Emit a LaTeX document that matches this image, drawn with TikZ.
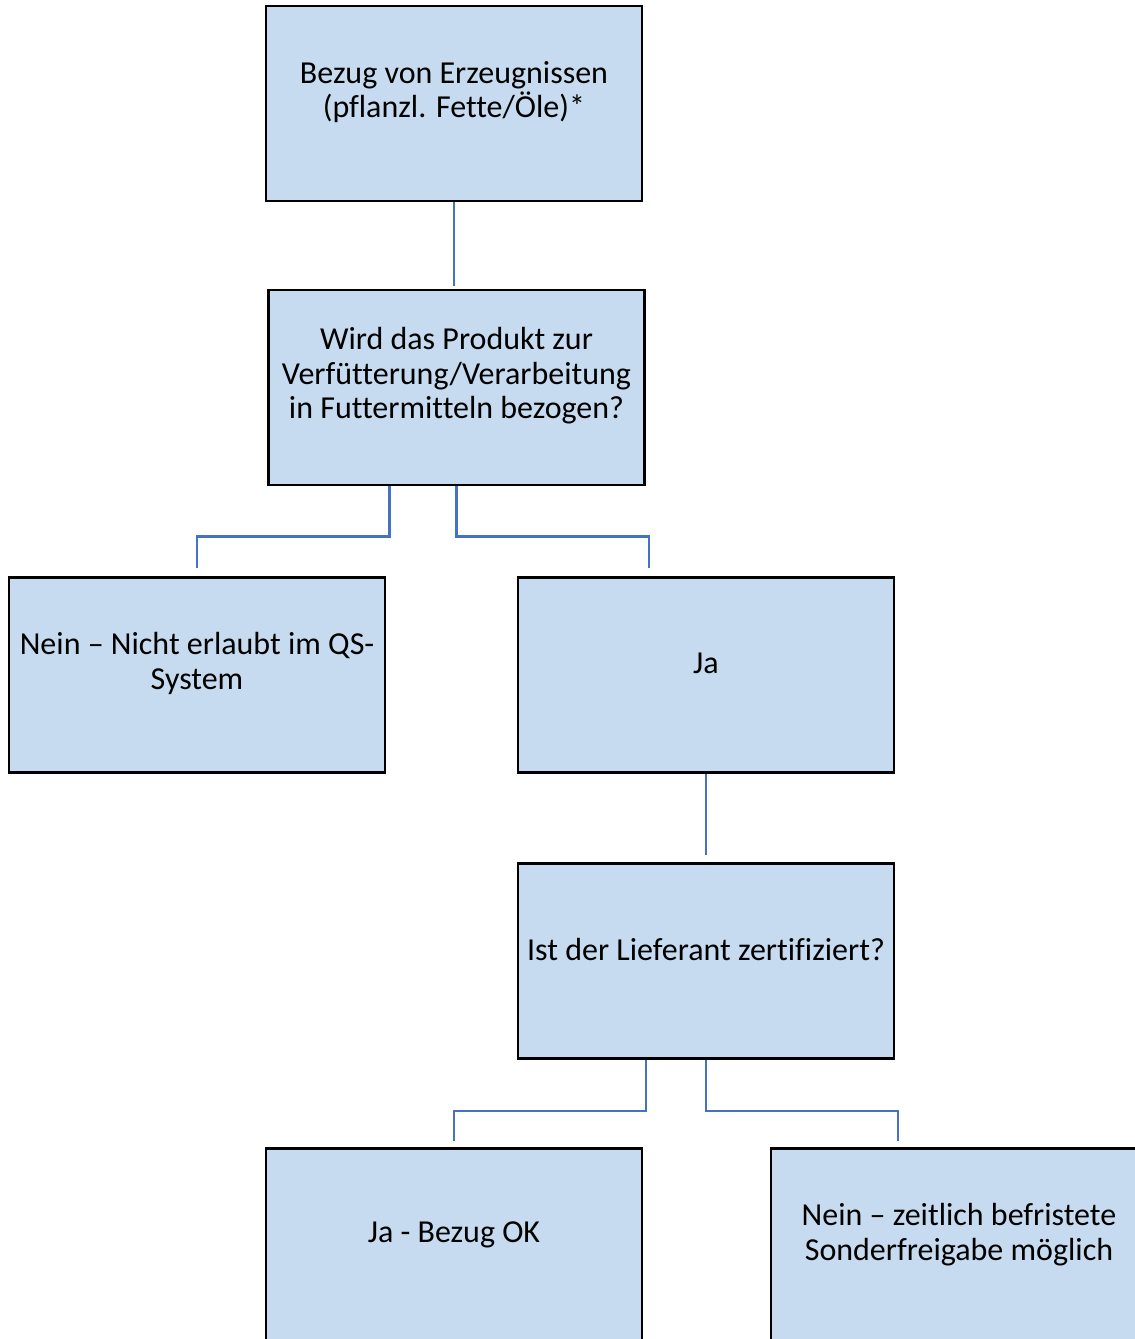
\documentclass[tikz,border=0pt]{standalone}
\usepackage{fontspec}
\setmainfont{Carlito}[Ligatures=CommonOff]
\usepackage{tikz}
\usetikzlibrary{positioning}
\usepackage{xcolor}
\definecolor{boxfill}{RGB}{198,219,239}
\definecolor{linkblue}{RGB}{68,114,196}

\begin{document}
\begin{tikzpicture}[
    x=0.5pt, y=-0.5pt,
    box/.style={draw, line width=1.4pt, fill=boxfill, minimum width=188pt, minimum height=97.5pt, inner sep=0pt},
    txt/.style={align=center, yshift=5.8pt, font=\fontsize{16}{17.3}\selectfont},
    conn/.style={draw=linkblue, line width=1.3pt}
]
\useasboundingbox (0,0) rectangle (1135,1339);
\clip (0,0) rectangle (1135,1339);

\node[box, label={[txt, name=t1]center:{Bezug von Erzeugnissen\\(pflanzl. Fette/Öle)*}}] (b1) at (454,103.5) {};
\node[box, label={[txt, name=t2]center:{Wird das Produkt zur\\Verfütterung/Verarbeitung\\in Futtermitteln bezogen?}}] (b2) at (456.5,387.5) {};
\node[box, label={[txt, name=t3]center:{Nein – Nicht erlaubt im QS-\\System}}] (b3) at (197,675) {};
\node[box, label={[txt, name=t4]center:{Ja}}] (b4) at (706,675) {};
\node[box, label={[txt, name=t5]center:{Ist der Lieferant zertifiziert?}}] (b5) at (706,961) {};
\node[box, label={[txt, name=t6]center:{Ja - Bezug OK}}] (b6) at (454,1246) {};
\node[box, label={[txt, name=t7]center:{Nein – zeitlich befristete\\Sonderfreigabe möglich}}] (b7) at (959,1246) {};

\draw[conn] (b1.south) -- ([yshift=1.5pt]b1.south |- b2.north);
\draw[conn] ([xshift=-33.5pt]b2.south) -- ++(0,50) -| ([yshift=4pt]b3.north);
\draw[conn] (b2.south) -- ++(0,50) -| ([xshift=-28.5pt, yshift=4pt]b4.north);
\draw[conn] (b4.south) -- ([yshift=3.5pt]b5.north);
\draw[conn] ([xshift=-30pt]b5.south) -- ++(0,51) -| ([yshift=3pt]b6.north);
\draw[conn] (b5.south) -- ++(0,51) -| ([xshift=-30.5pt, yshift=3pt]b7.north);
\end{tikzpicture}
\end{document}
